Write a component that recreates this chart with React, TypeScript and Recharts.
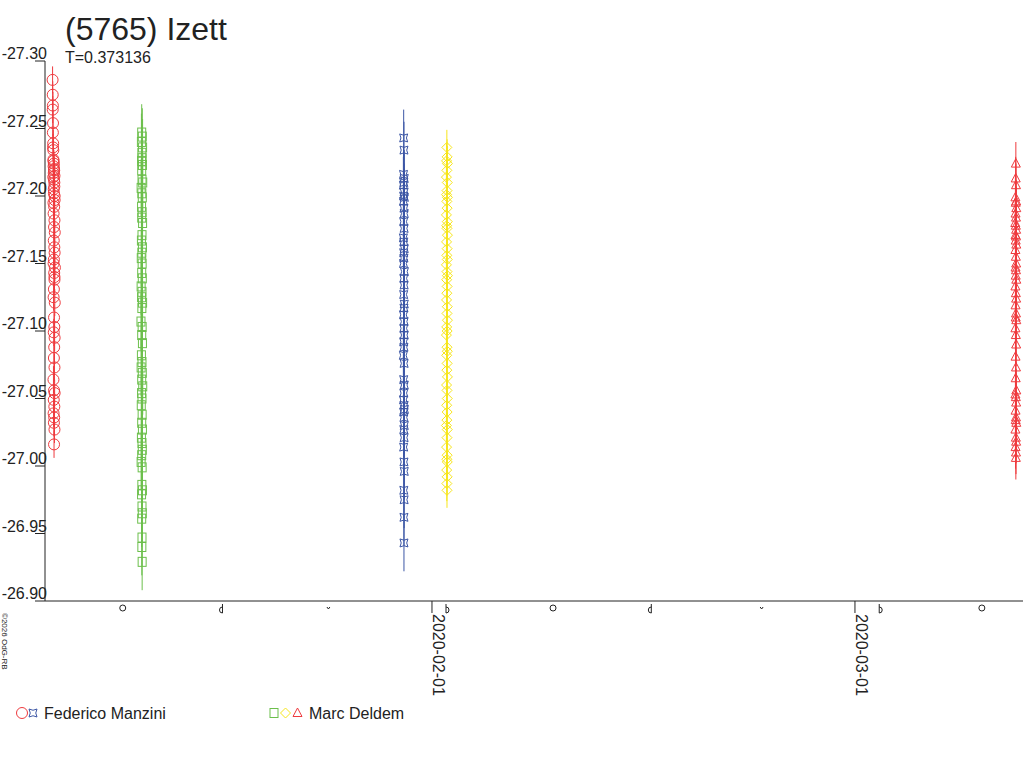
import React from "react";
import { ScatterChart, Scatter, XAxis, YAxis, ErrorBar } from "recharts";

const INK = "#222";
const RED = "#ee3a3e";
const GREEN = "#6cbf4c";
const BLUE = "#3c56a5";
const YELLOW = "#f7e61c";
const FONT = "'Liberation Sans', Arial, sans-serif";

const objectName = "(5765) Izett";
const periodLabel = "T=0.373136";
const copyright = "©2026 OdG-RB";
const observers = ["Federico Manzini", "Marc Deldem"];

// time axis in days since 2020-01-01 00:00
const timeDomain = [4.47, 71.52];
const dateTicks = [
  { t: 31, label: "2020-02-01" },
  { t: 60, label: "2020-03-01" },
];
const moonPhases = [
  { t: 9.8, phase: "full" },
  { t: 16.5, phase: "last" },
  { t: 23.9, phase: "new" },
  { t: 32.1, phase: "first" },
  { t: 39.3, phase: "full" },
  { t: 45.9, phase: "last" },
  { t: 53.6, phase: "new" },
  { t: 61.8, phase: "first" },
  { t: 68.7, phase: "full" },
];
const magDomain = [-27.3, -26.9];
const magTicks = [-27.3, -27.25, -27.2, -27.15, -27.1, -27.05, -27.0, -26.95, -26.9];

// [time, magnitude]
const manziniJan = [
  [4.99, -27.286], [5.0, -27.275], [5.01, -27.267], [5.0, -27.264], [5.02, -27.254],
  [5.01, -27.247], [5.03, -27.239], [5.02, -27.236], [5.04, -27.234], [5.05, -27.227],
  [5.05, -27.226], [5.08, -27.224], [5.06, -27.222], [5.09, -27.22], [5.1, -27.219],
  [5.07, -27.217], [5.12, -27.215], [5.04, -27.214], [5.09, -27.212], [5.11, -27.21],
  [5.11, -27.207], [5.07, -27.205], [5.08, -27.202], [5.13, -27.2], [5.13, -27.197],
  [5.05, -27.195], [5.1, -27.192], [5.06, -27.187], [5.12, -27.182], [5.09, -27.177],
  [5.14, -27.173], [5.07, -27.167], [5.11, -27.162], [5.13, -27.158], [5.08, -27.153],
  [5.06, -27.15], [5.15, -27.147], [5.1, -27.143], [5.12, -27.14], [5.12, -27.138],
  [5.08, -27.131], [5.06, -27.125], [5.14, -27.121], [5.09, -27.11], [5.11, -27.103],
  [5.07, -27.099], [5.13, -27.095], [5.1, -27.088], [5.08, -27.08], [5.12, -27.073],
  [5.05, -27.064], [5.09, -27.056], [5.13, -27.054], [5.07, -27.049], [5.11, -27.044],
  [5.06, -27.039], [5.1, -27.036], [5.08, -27.032], [5.12, -27.027], [5.09, -27.016],
];

const deldemJan = [
  [11.1, -27.247], [11.14, -27.244], [11.08, -27.24], [11.16, -27.236], [11.11, -27.232],
  [11.13, -27.228], [11.09, -27.226], [11.15, -27.223], [11.1, -27.219], [11.12, -27.212],
  [11.17, -27.21], [11.06, -27.206], [11.11, -27.202], [11.14, -27.199], [11.09, -27.192],
  [11.13, -27.188], [11.1, -27.184], [11.16, -27.18], [11.12, -27.171], [11.08, -27.167],
  [11.15, -27.162], [11.11, -27.158], [11.07, -27.154], [11.13, -27.15], [11.1, -27.143],
  [11.14, -27.139], [11.06, -27.133], [11.12, -27.129], [11.09, -27.125], [11.16, -27.121],
  [11.11, -27.117], [11.05, -27.107], [11.13, -27.103], [11.1, -27.097], [11.15, -27.091],
  [11.08, -27.082], [11.12, -27.077], [11.06, -27.073], [11.14, -27.069], [11.1, -27.064],
  [11.17, -27.059], [11.09, -27.054], [11.12, -27.05], [11.07, -27.045], [11.13, -27.038],
  [11.1, -27.032], [11.15, -27.027], [11.08, -27.021], [11.12, -27.017], [11.14, -27.012],
  [11.1, -27.008], [11.06, -27.003], [11.13, -26.999], [11.11, -26.986], [11.15, -26.982],
  [11.09, -26.979], [11.12, -26.97], [11.14, -26.965], [11.1, -26.961], [11.12, -26.947],
  [11.11, -26.94], [11.13, -26.929],
];

const manziniFeb = [
  [29.06, -27.243], [29.08, -27.234], [29.05, -27.216], [29.1, -27.213], [29.07, -27.21],
  [29.04, -27.208], [29.09, -27.203], [29.06, -27.2], [29.11, -27.199], [29.05, -27.196],
  [29.08, -27.191], [29.1, -27.187], [29.06, -27.181], [29.09, -27.176], [29.04, -27.169],
  [29.07, -27.166], [29.1, -27.161], [29.06, -27.158], [29.08, -27.154], [29.05, -27.15],
  [29.11, -27.144], [29.07, -27.139], [29.09, -27.134], [29.06, -27.127], [29.1, -27.12],
  [29.08, -27.117], [29.05, -27.112], [29.09, -27.107], [29.07, -27.102], [29.1, -27.097],
  [29.06, -27.092], [29.08, -27.088], [29.04, -27.082], [29.09, -27.076], [29.06, -27.064],
  [29.1, -27.06], [29.07, -27.054], [29.05, -27.049], [29.09, -27.045], [29.11, -27.042],
  [29.06, -27.04], [29.08, -27.036], [29.1, -27.03], [29.07, -27.027], [29.09, -27.021],
  [29.06, -27.014], [29.08, -27.003], [29.1, -26.996], [29.07, -26.982], [29.09, -26.975],
  [29.08, -26.962], [29.08, -26.943],
];

const deldemFeb = [
  [32.02, -27.236], [32.04, -27.229], [32.0, -27.226], [32.06, -27.224], [32.02, -27.219],
  [31.99, -27.214], [32.05, -27.21], [32.03, -27.204], [32.0, -27.201], [32.06, -27.199],
  [32.02, -27.196], [32.04, -27.191], [31.99, -27.186], [32.05, -27.181], [32.01, -27.178],
  [32.03, -27.176], [32.06, -27.171], [32.0, -27.166], [32.04, -27.161], [32.02, -27.156],
  [32.05, -27.153], [31.99, -27.149], [32.03, -27.144], [32.06, -27.141], [32.01, -27.138],
  [32.04, -27.133], [32.02, -27.128], [32.0, -27.123], [32.05, -27.118], [32.03, -27.113],
  [32.06, -27.108], [32.01, -27.103], [32.04, -27.1], [31.99, -27.097], [32.03, -27.088],
  [32.05, -27.085], [32.01, -27.082], [32.04, -27.076], [32.02, -27.071], [32.06, -27.066],
  [32.0, -27.06], [32.03, -27.056], [32.05, -27.05], [32.01, -27.045], [32.04, -27.04],
  [32.02, -27.034], [31.99, -27.03], [32.05, -27.027], [32.03, -27.021], [32.0, -27.014],
  [32.04, -27.008], [32.02, -27.005], [32.05, -27.003], [32.01, -26.997], [32.04, -26.992],
  [32.02, -26.987], [32.03, -26.982],
];

const deldemMar = [
  [71.03, -27.224], [71.02, -27.213], [71.04, -27.208], [71.0, -27.199], [71.05, -27.196],
  [71.02, -27.195], [71.06, -27.191], [71.01, -27.187], [71.04, -27.184], [70.99, -27.18],
  [71.03, -27.178], [71.05, -27.175], [71.01, -27.171], [71.04, -27.17], [71.02, -27.167],
  [71.06, -27.164], [71.0, -27.16], [71.03, -27.155], [71.05, -27.15], [71.01, -27.147],
  [71.04, -27.145], [71.02, -27.141], [71.06, -27.138], [71.0, -27.133], [71.03, -27.128],
  [71.05, -27.124], [71.01, -27.119], [71.04, -27.113], [71.02, -27.11], [71.06, -27.108],
  [71.0, -27.102], [71.03, -27.097], [71.05, -27.09], [71.01, -27.081], [71.04, -27.073],
  [71.02, -27.065], [71.06, -27.056], [71.0, -27.053], [71.03, -27.051], [71.05, -27.047],
  [71.01, -27.041], [71.04, -27.036], [71.02, -27.034], [71.06, -27.032], [71.0, -27.027],
  [71.03, -27.021], [71.05, -27.018], [71.01, -27.014], [71.04, -27.01], [71.03, -27.006],
];

const series = [
  { id: "manziniJan", points: manziniJan, err: 0.01, color: RED, shape: "circle" },
  { id: "deldemJan", points: deldemJan, err: 0.021, color: GREEN, shape: "square" },
  { id: "manziniFeb", points: manziniFeb, err: 0.021, color: BLUE, shape: "star" },
  { id: "deldemFeb", points: deldemFeb, err: 0.013, color: YELLOW, shape: "diamond" },
  { id: "deldemMar", points: deldemMar, err: 0.016, color: RED, shape: "triangle" },
];

function Marker({ kind, cx, cy, color }: { kind: string; cx: number; cy: number; color: string }) {
  const common = { fill: "none", stroke: color, strokeWidth: 1 };
  if (kind === "circle") return <circle cx={cx} cy={cy} r={5.5} {...common} />;
  if (kind === "square") return <rect x={cx - 4} y={cy - 4.5} width={8} height={9} {...common} />;
  if (kind === "diamond")
    return <path d={`M${cx} ${cy - 5}L${cx + 5} ${cy}L${cx} ${cy + 5}L${cx - 5} ${cy}Z`} {...common} />;
  if (kind === "triangle")
    return <path d={`M${cx} ${cy - 5}L${cx + 4.5} ${cy + 3.5}L${cx - 4.5} ${cy + 3.5}Z`} {...common} />;
  return (
    <path
      d={`M${cx - 4} ${cy - 4}Q${cx} ${cy - 1.5} ${cx + 4} ${cy - 4}Q${cx + 1.5} ${cy} ${cx + 4} ${cy + 4}Q${cx} ${cy + 1.5} ${cx - 4} ${cy + 4}Q${cx - 1.5} ${cy} ${cx - 4} ${cy - 4}Z`}
      {...common}
    />
  );
}

function MagTick(props: any) {
  const { x, y, payload } = props;
  return (
    <g>
      <line x1={x - 10} x2={x} y1={y} y2={y} stroke={INK} />
      <text x={x + 2} y={y - 2} textAnchor="end" fontSize={16} fontFamily={FONT} fill={INK}>
        {Number(payload.value).toFixed(2)}
      </text>
    </g>
  );
}

function TimeTick(props: any) {
  const { x, y, payload } = props;
  const date = dateTicks.find((d) => d.t === payload.value);
  if (date) {
    return (
      <g>
        <line x1={x} x2={x} y1={y} y2={y + 12} stroke={INK} />
        <text
          x={x + 1}
          y={y + 13}
          transform={`rotate(90 ${x + 1} ${y + 13})`}
          fontSize={16}
          fontFamily={FONT}
          fill={INK}
        >
          {date.label}
        </text>
      </g>
    );
  }
  const moon = moonPhases.find((m) => m.t === payload.value);
  if (!moon) return null;
  const s = { fill: "none", stroke: INK, strokeWidth: 1 };
  if (moon.phase === "full") return <circle cx={x} cy={y + 7} r={3} {...s} />;
  if (moon.phase === "new") return <path d={`M${x - 1.5} ${y + 6}L${x} ${y + 8}L${x + 1.5} ${y + 6}`} {...s} />;
  const dir = moon.phase === "last" ? 1 : -1;
  const lx = x + 2 * dir;
  return (
    <path
      d={`M${lx} ${y + 3}L${lx} ${y + 12}M${lx} ${y + 6}A3 3 0 0 ${dir === 1 ? 0 : 1} ${lx} ${y + 12}`}
      {...s}
    />
  );
}

const legendEntries = [
  { name: observers[0], marks: ["circle", "star"], colors: [RED, BLUE], x: [22, 33], textX: 44 },
  { name: observers[1], marks: ["square", "diamond", "triangle"], colors: [GREEN, YELLOW, RED], x: [274, 285.5, 297.5], textX: 309 },
];

export default function App() {
  const allTicks = [...moonPhases.map((m) => m.t), ...dateTicks.map((d) => d.t)].sort((a, b) => a - b);
  return (
    <div style={{ position: "absolute", left: 0, top: 0, width: 1024, height: 768, background: "#fff" }}>
      <ScatterChart width={1024} height={768} margin={{ top: 61, right: 1, bottom: 0, left: 0 }}>
        <XAxis
          type="number"
          dataKey="t"
          domain={timeDomain}
          allowDataOverflow
          ticks={allTicks}
          interval={0}
          tickSize={0}
          tickMargin={0}
          tickLine={false}
          height={167}
          axisLine={{ stroke: INK }}
          tick={<TimeTick />}
        />
        <YAxis
          type="number"
          dataKey="m"
          domain={magDomain}
          reversed
          allowDataOverflow
          ticks={magTicks}
          interval={0}
          tickSize={0}
          tickMargin={0}
          tickLine={false}
          width={45}
          axisLine={{ stroke: INK }}
          tick={<MagTick />}
        />
        {series.map((s) => (
          <Scatter
            key={s.id}
            data={s.points.map(([t, m]) => ({ t, m, e: s.err }))}
            isAnimationActive={false}
            shape={(p: any) => <Marker kind={s.shape} cx={p.cx} cy={p.cy} color={s.color} />}
          >
            <ErrorBar dataKey="e" direction="y" width={0} stroke={s.color} strokeWidth={1} isAnimationActive={false} />
          </Scatter>
        ))}
      </ScatterChart>
      <svg
        width={1024}
        height={768}
        style={{ position: "absolute", left: 0, top: 0, pointerEvents: "none" }}
        fontFamily={FONT}
      >
        <text x={65} y={40} fontSize={32} fill={INK}>
          {objectName}
        </text>
        <text x={65} y={63} fontSize={16} fill={INK}>
          {periodLabel}
        </text>
        <text x={2} y={613} fontSize={8} fill={INK} transform="rotate(90 2 613)">
          {copyright}
        </text>
        {legendEntries.map((e) => (
          <g key={e.name}>
            {e.marks.map((k, i) => (
              <Marker key={k} kind={k} cx={e.x[i]} cy={713} color={e.colors[i]} />
            ))}
            <text x={e.textX} y={719} fontSize={16} fill={INK}>
              {e.name}
            </text>
          </g>
        ))}
      </svg>
    </div>
  );
}
